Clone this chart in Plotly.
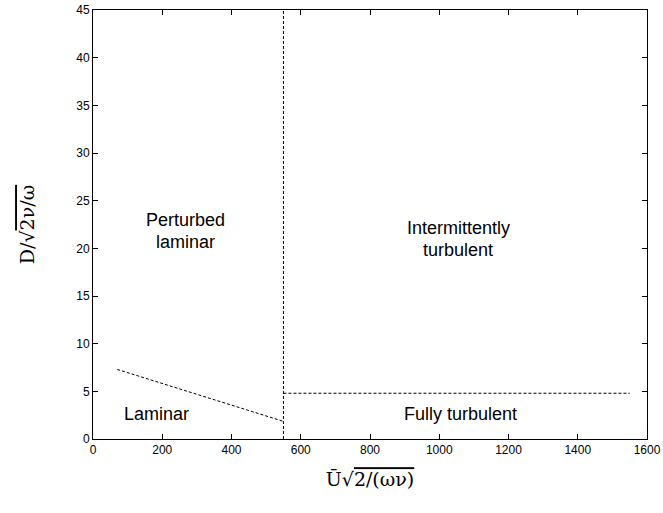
import plotly.graph_objects as go

# Boundary lines
lam_x = [70, 550]
lam_y = [7.3, 1.85]
vert_x = [550, 550]
vert_y = [0, 45]
turb_x = [550, 1550]
turb_y = [4.8, 4.8]

# Region labels (one entry per text line)
labels = ["Perturbed", "laminar", "Intermittently", "turbulent", "Laminar", "Fully turbulent"]
label_x = [266, 266, 1055, 1055, 183, 1061]
label_y = [21.85, 21.85, 20.95, 20.95, 2.6, 2.6]
label_anchor = ["bottom", "top", "bottom", "top", "middle", "middle"]

x_ticks = [0, 200, 400, 600, 800, 1000, 1200, 1400, 1600]
y_ticks = [0, 5, 10, 15, 20, 25, 30, 35, 40, 45]

fig = go.Figure()
line_style = dict(color="black", width=1, dash="3px,2px")
for xs, ys in [(lam_x, lam_y), (vert_x, vert_y), (turb_x, turb_y)]:
    fig.add_trace(go.Scatter(x=xs, y=ys, mode="lines", line=line_style,
                             showlegend=False, hoverinfo="skip"))

for t, x, y, a in zip(labels, label_x, label_y, label_anchor):
    fig.add_annotation(x=x, y=y, text=t, showarrow=False, yanchor=a, borderpad=0,
                       font=dict(family="Liberation Sans, Arial", size=18, color="black"))

axis_common = dict(showgrid=False, zeroline=False, showline=True, linecolor="black",
                   linewidth=1, mirror="ticks", ticks="inside", ticklen=5, automargin=False,
                   tickcolor="black", tickfont=dict(family="Liberation Sans, Arial", size=12, color="black"))

fig.update_xaxes(range=[0, 1600], tickvals=x_ticks, **axis_common,
                 title=dict(text="Ū√<span style='text-decoration:overline'>2/(ων)</span>",
                            font=dict(family="DejaVu Serif, Liberation Serif", size=19, color="black"),
                            standoff=16))
fig.update_yaxes(range=[0, 45], tickvals=y_ticks, **axis_common,
                 title=dict(text="D/√<span style='text-decoration:overline'>2ν/ω</span>",
                            font=dict(family="DejaVu Serif, Liberation Serif", size=19, color="black"),
                            standoff=36))

fig.update_layout(width=663, height=513, margin=dict(l=93, r=16, t=10, b=74),
                  plot_bgcolor="white", paper_bgcolor="white")

fig.write_html("out.html")
